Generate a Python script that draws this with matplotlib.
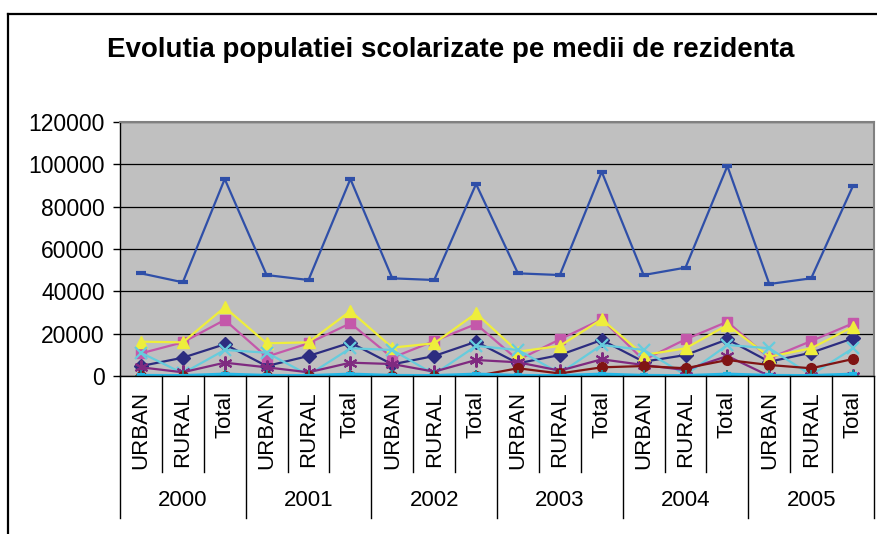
import matplotlib.pyplot as plt
import matplotlib.transforms as mtransforms
from matplotlib.lines import Line2D

plt.rcParams["font.family"] = ["Liberation Sans", "DejaVu Sans"]

years = ["2000", "2001", "2002", "2003", "2004", "2005"]
areas = ["URBAN", "RURAL", "Total"]
categories = [a for y in years for a in areas]

s_navy = [4700, 8650, 15000, 4700, 9450, 15750, 5500, 9450, 16200,
          6000, 9900, 17000, 6750, 9900, 17300, 6750, 11000, 17800]
s_magenta = [10700, 15900, 26500, 9100, 15450, 24900, 8650, 16500, 24550,
             7560, 17300, 26800, 7560, 17300, 25650, 8360, 16500, 24900]
s_yellow = [16200, 15900, 32450, 15450, 15900, 30700, 13400, 15450, 29600,
            11500, 14200, 26800, 9900, 13070, 24100, 9100, 13070, 23300]
s_cyan = [11000, 1270, 12300, 11000, 470, 13100, 12300, 800, 14200,
          12300, 1270, 14650, 12300, 470, 14650, 13100, 470, 13100]
s_purple = [4100, 1750, 6300, 4100, 1750, 6300, 5650, 2050, 7560,
            6470, 2520, 7880, 5200, 2830, 9450, 0, 0, 0]
s_darkred = [0, 0, 0, 0, 0, 0, 0, 0, 0,
             3650, 1200, 4100, 4700, 3650, 7560, 5200, 3650, 8030]
s_teal = [0] * 18
s_blue = [48500, 44270, 93070, 47700, 45350, 93070, 46150, 45350, 90700,
          48500, 47700, 96500, 47700, 51200, 99200, 43460, 46150, 89900]
s_light = [300, 200, 900, 300, 200, 900, 300, 200, 900,
           300, 200, 900, 300, 200, 900, 300, 200, 900]

W, H = 877, 534
fig = plt.figure(figsize=(W / 100, H / 100), dpi=100)

# outer chart border (clipped on the right and bottom)
fig.add_artist(Line2D([8 / W, 1.0], [1 - 14 / H, 1 - 14 / H], color="black", lw=1.6))
fig.add_artist(Line2D([8 / W, 8 / W], [0, 1 - 14 / H], color="black", lw=1.6))

ax = fig.add_axes([120 / W, (H - 376) / H, 754 / W, 254 / H])
ax.set_facecolor("#C0C0C0")

x = [i + 0.5 for i in range(len(categories))]
style = dict(lw=1.6)
ax.plot(x, s_navy, color="#2C2C80", marker="D", ms=7, **style)
ax.plot(x, s_magenta, color="#C458AA", marker="s", ms=7, **style)
ax.plot(x, s_yellow, color="#EEEE3C", marker="^", ms=9, **style)
ax.plot(x, s_cyan, color="#66CCDD", marker="x", ms=8, mew=1.6, **style)
ax.plot(x, s_purple, color="#7F2A80", marker=(6, 2, 0), ms=10, mew=1.5, **style)
ax.plot(x, s_darkred, color="#801414", marker="o", ms=7, **style)
ax.plot(x, s_teal, color="#208A8A", marker="+", ms=8, mew=1.4, **style)
ax.plot(x, s_blue, color="#2F4FA8", marker="_", ms=7, mew=3, **style)
ax.plot(x, s_light, color="#22B8E8", marker="_", ms=6, mew=3, lw=2.2)

ax.set_xlim(0, 18)
ax.set_ylim(0, 120000)
ax.set_yticks(range(0, 120001, 20000))
ax.yaxis.grid(True, color="black", lw=0.9)
ax.set_axisbelow(True)
ax.tick_params(axis="y", length=5, width=1, pad=6, labelsize=16.5)

ax.set_xticks(x)
ax.set_xticklabels(categories, rotation=90, fontsize=16)
ax.tick_params(axis="x", length=0, pad=11)

for side in ["top", "right"]:
    ax.spines[side].set_color("#808080")
    ax.spines[side].set_linewidth(1.5)
ax.spines["left"].set_linewidth(1)
ax.spines["bottom"].set_linewidth(1)

# category group separators below the axis
trans = mtransforms.blended_transform_factory(ax.transData, ax.transAxes)
sub_end = -(472 - 376) / 254
year_end = -(518 - 376) / 254
for i in range(19):
    end = year_end if i % 3 == 0 else sub_end
    ax.plot([i, i], [0, end], color="black", lw=1,
            transform=trans, clip_on=False)
for j, yr in enumerate(years):
    ax.text(j * 3 + 1.5, -(501 - 376) / 254, yr, transform=trans,
            ha="center", va="center", fontsize=16)

fig.text(451 / W, 1 - 50 / H, "Evolutia populatiei scolarizate pe medii de rezidenta",
         ha="center", va="center", fontsize=20, fontweight="bold")

fig.savefig("out.png", dpi=100)
